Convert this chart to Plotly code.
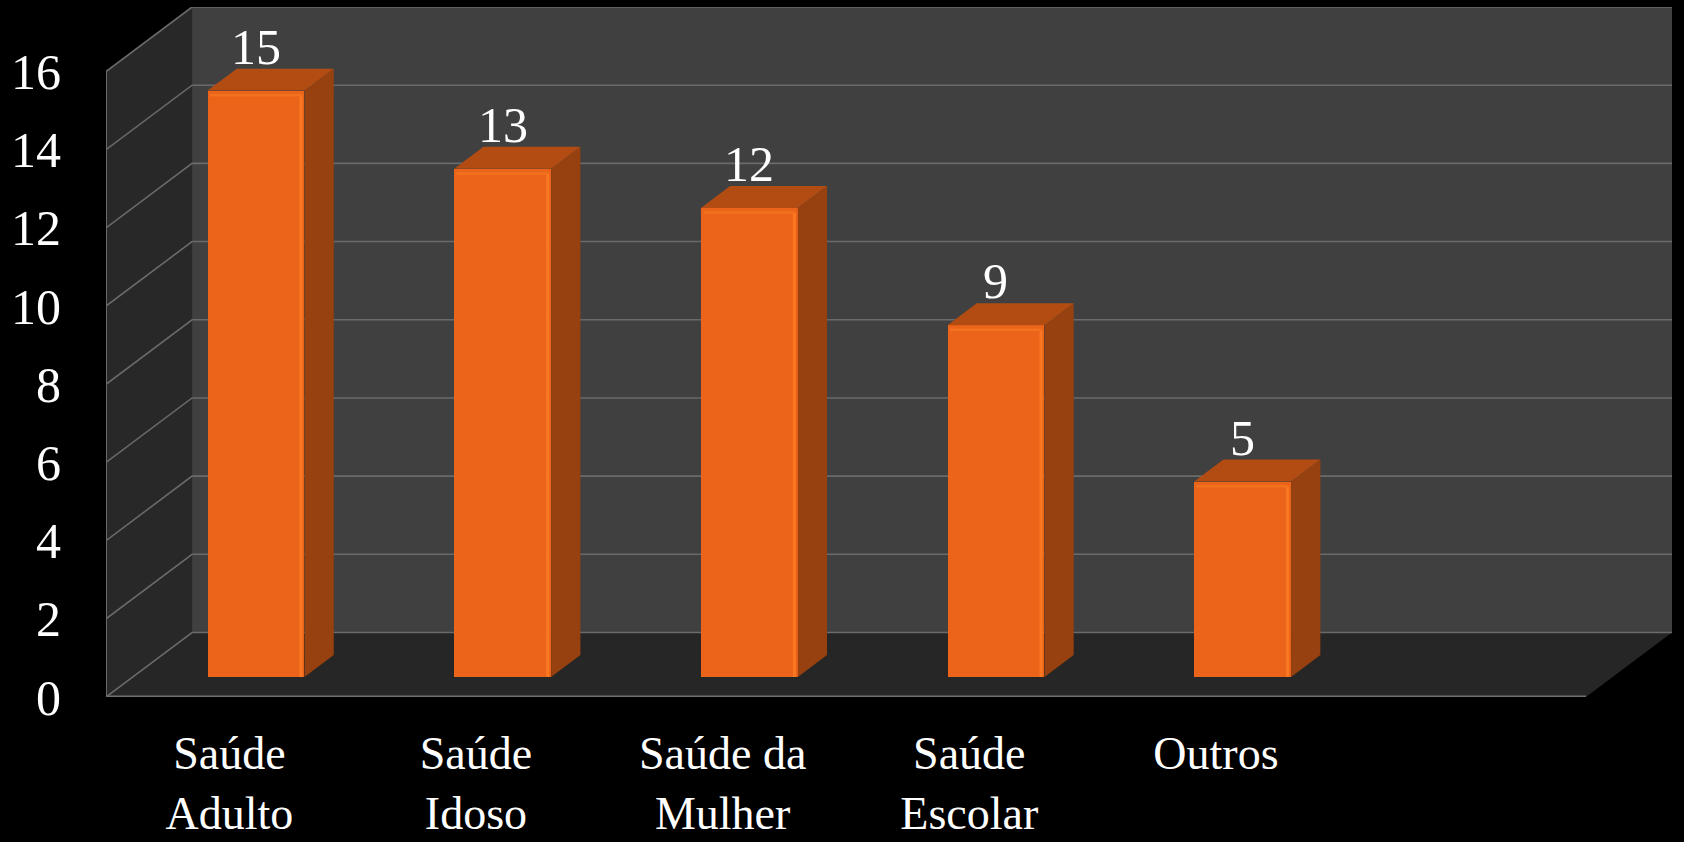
import plotly.graph_objects as go

# ---- data ----
categories = ["Saúde<br>Adulto", "Saúde<br>Idoso", "Saúde da<br>Mulher", "Saúde<br>Escolar", "Outros"]
values = [15, 13, 12, 9, 5]
y_ticks = [0, 2, 4, 6, 8, 10, 12, 14, 16]

# ---- pseudo-3D projection settings ----
DX = 0.349      # depth shift (category units)
DY = 1.65       # depth shift (value units)
Z0, Z1 = 0.31, 0.65   # bar front / back depth fraction
BW = 0.393      # bar width (category units)
YMAX = 16
NSLOT = 6
XL, XR = -0.5, NSLOT - 0.5

FONT = "Liberation Serif"
FRONT = "#EC6419"
SIDE = "#96410F"
TOP = "#B24C13"
GRID = "#6a6a6a"


def P(x, y, z):
    return (x + z * DX, y + z * DY)


def path(pts, close=True):
    s = "M " + " L ".join(f"{x:.4f},{y:.4f}" for x, y in pts)
    return s + (" Z" if close else "")


shapes = []
# walls and floor
shapes.append(dict(type="path", xref="x", yref="y", layer="below", line=dict(width=0),
                   fillcolor="#282828",
                   path=path([P(XL, 0, 0), P(XL, YMAX, 0), P(XL, YMAX, 1), P(XL, 0, 1)])))
shapes.append(dict(type="path", xref="x", yref="y", layer="below", line=dict(width=0),
                   fillcolor="#404040",
                   path=path([P(XL, 0, 1), P(XL, YMAX, 1), P(XR, YMAX, 1), P(XR, 0, 1)])))
shapes.append(dict(type="path", xref="x", yref="y", layer="below", line=dict(width=0),
                   fillcolor="#262626",
                   path=path([P(XL, 0, 0), P(XR, 0, 0), P(XR, 0, 1), P(XL, 0, 1)])))
# gridlines
for t in y_ticks:
    shapes.append(dict(type="path", xref="x", yref="y", layer="below",
                       line=dict(color=GRID, width=1.6),
                       path=path([P(XL, t, 0), P(XL, t, 1), P(XR, t, 1)], close=False)))
# front edges
shapes.append(dict(type="path", xref="x", yref="y", layer="below",
                   line=dict(color=GRID, width=2),
                   path=path([P(XL, 0, 0), P(XL, YMAX, 0)], close=False)))
shapes.append(dict(type="path", xref="x", yref="y", layer="below",
                   line=dict(color="#707070", width=3),
                   path=path([P(XL, 0, 0), P(XR, 0, 0)], close=False)))

fig = go.Figure()

xs = list(range(len(categories)))

# side and top faces
for i, v in zip(xs, values):
    side = [P(i + BW / 2, 0, Z0), P(i + BW / 2, v, Z0), P(i + BW / 2, v, Z1), P(i + BW / 2, 0, Z1), P(i + BW / 2, 0, Z0)]
    fig.add_trace(go.Scatter(x=[p[0] for p in side], y=[p[1] for p in side], fill="toself",
                             fillcolor=SIDE, mode="lines", line=dict(width=0),
                             hoverinfo="skip", showlegend=False))
    top = [P(i - BW / 2, v, Z0), P(i + BW / 2, v, Z0), P(i + BW / 2, v, Z1), P(i - BW / 2, v, Z1), P(i - BW / 2, v, Z0)]
    fig.add_trace(go.Scatter(x=[p[0] for p in top], y=[p[1] for p in top], fill="toself",
                             fillcolor=TOP, mode="lines", line=dict(width=0),
                             hoverinfo="skip", showlegend=False))

# front faces
fig.add_trace(go.Bar(x=[i + Z0 * DX for i in xs], y=values, base=Z0 * DY, width=BW,
                     marker=dict(color=FRONT, line=dict(width=0)),
                     hoverinfo="skip", showlegend=False))

# highlight strips on the front face edges (bevel look)
for i, v in zip(xs, values):
    xc = i + Z0 * DX
    xe = xc + BW / 2 - 0.014
    fig.add_trace(go.Scatter(x=[xe, xe], y=[Z0 * DY, v + Z0 * DY - 0.12], mode="lines",
                             line=dict(color="#FA7822", width=3),
                             hoverinfo="skip", showlegend=False))
    fig.add_trace(go.Scatter(x=[xc - BW / 2 + 0.01, xe], y=[v + Z0 * DY - 0.12] * 2, mode="lines",
                             line=dict(color="#F27220", width=2.5),
                             hoverinfo="skip", showlegend=False))

annotations = []
for i, v in zip(xs, values):
    annotations.append(dict(x=i + Z0 * DX, y=v + Z1 * DY, xref="x", yref="y",
                            text=str(v), showarrow=False, yanchor="bottom", yshift=-8,
                            font=dict(family=FONT, size=50, color="white")))

fig.update_layout(
    width=1684, height=842,
    margin=dict(l=106, r=12, t=7, b=145, autoexpand=False),
    paper_bgcolor="black", plot_bgcolor="black",
    shapes=shapes, annotations=annotations,
    bargap=0,
    xaxis=dict(range=[XL, XR + DX], tickvals=xs, ticktext=categories, showgrid=False,
               zeroline=False, showline=False, ticks="", ticklabelstandoff=25, automargin=False,
               tickfont=dict(family=FONT, size=46, color="white"), fixedrange=True),
    yaxis=dict(range=[0, YMAX + DY], tickvals=y_ticks, showgrid=False, zeroline=False,
               showline=False, ticks="", ticklabelstandoff=44, automargin=False,
               tickfont=dict(family=FONT, size=50, color="white"), fixedrange=True),
)

fig.write_html("out.html", config={"displayModeBar": False},
               post_script="document.body.style.margin='0';document.body.style.overflow='hidden';")
